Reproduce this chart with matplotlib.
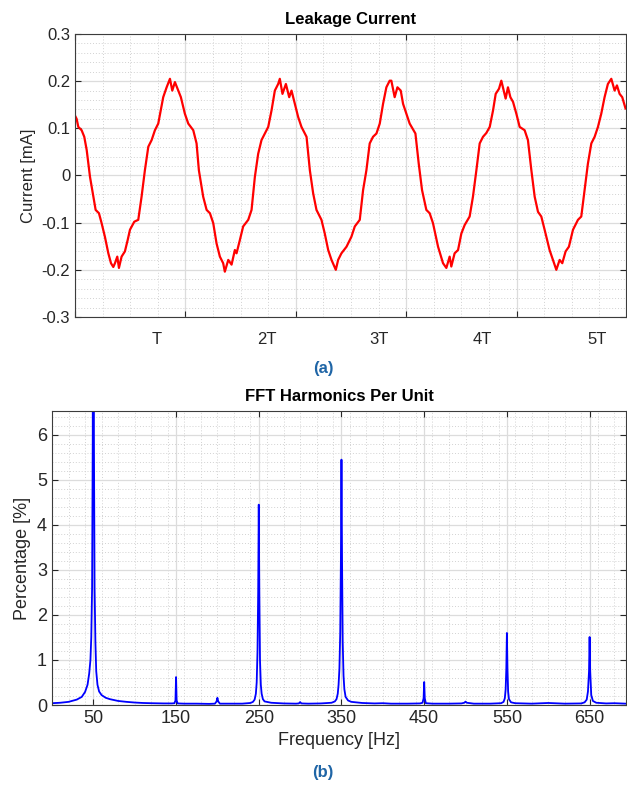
import matplotlib
matplotlib.use("Agg")
import matplotlib.pyplot as plt
from matplotlib.ticker import MultipleLocator, NullFormatter

plt.rcParams['font.family'] = ['Liberation Sans', 'DejaVu Sans']

# leakage current trace, time in periods (T = 20 ms), current in mA
t_period = [
    0.000, 0.015, 0.030, 0.060, 0.084, 0.106, 0.136, 0.166, 0.187, 0.217,
    0.241, 0.271, 0.302, 0.326, 0.347, 0.362, 0.383, 0.398, 0.422, 0.452,
    0.477, 0.498, 0.537, 0.573, 0.603, 0.633, 0.664, 0.694, 0.724, 0.754,
    0.799, 0.830, 0.860, 0.881, 0.905, 0.935, 0.959, 0.995, 1.026, 1.071,
    1.101, 1.122, 1.161, 1.192, 1.222, 1.252, 1.282, 1.312, 1.342, 1.357,
    1.388, 1.418, 1.448, 1.463, 1.493, 1.523, 1.569, 1.599, 1.629, 1.659,
    1.689, 1.719, 1.750, 1.780, 1.810, 1.840, 1.855, 1.879, 1.910, 1.940,
    1.961, 1.991, 2.021, 2.051, 2.097, 2.127, 2.157, 2.187, 2.232, 2.262,
    2.293, 2.323, 2.362, 2.383, 2.413, 2.459, 2.503, 2.534, 2.579, 2.609,
    2.639, 2.669, 2.699, 2.730, 2.760, 2.790, 2.820, 2.850, 2.865, 2.895,
    2.920, 2.950, 2.971, 3.001, 3.031, 3.083, 3.113, 3.143, 3.182, 3.212,
    3.242, 3.288, 3.333, 3.363, 3.393, 3.408, 3.438, 3.469, 3.499, 3.529,
    3.574, 3.604, 3.635, 3.665, 3.695, 3.725, 3.756, 3.786, 3.810, 3.840,
    3.861, 3.882, 3.900, 3.921, 3.943, 3.967, 3.997, 4.027, 4.072, 4.102,
    4.133, 4.163, 4.193, 4.223, 4.253, 4.298, 4.329, 4.359, 4.389, 4.413,
    4.443, 4.473, 4.510, 4.555, 4.585, 4.615, 4.645, 4.676, 4.706, 4.736,
    4.766, 4.796, 4.826, 4.857, 4.887, 4.908, 4.932, 4.956, 4.986,
]
current_ma = [
    0.127, 0.120, 0.103, 0.096, 0.082, 0.054, -0.003, -0.045, -0.073, -0.080,
    -0.101, -0.130, -0.165, -0.186, -0.194, -0.186, -0.172, -0.196, -0.172, -0.161,
    -0.137, -0.115, -0.098, -0.094, -0.045, 0.011, 0.061, 0.075, 0.096, 0.110,
    0.166, 0.187, 0.205, 0.180, 0.198, 0.180, 0.166, 0.131, 0.110, 0.096,
    0.068, 0.011, -0.045, -0.073, -0.080, -0.101, -0.144, -0.172, -0.186, -0.204,
    -0.179, -0.189, -0.158, -0.165, -0.137, -0.108, -0.094, -0.073, -0.003, 0.046,
    0.075, 0.089, 0.103, 0.138, 0.180, 0.194, 0.205, 0.173, 0.194, 0.166,
    0.180, 0.152, 0.124, 0.103, 0.082, 0.011, -0.038, -0.073, -0.094, -0.123,
    -0.158, -0.179, -0.200, -0.179, -0.165, -0.151, -0.130, -0.108, -0.094, -0.031,
    0.011, 0.068, 0.082, 0.089, 0.110, 0.152, 0.187, 0.201, 0.201, 0.166,
    0.187, 0.180, 0.152, 0.131, 0.110, 0.089, 0.025, -0.031, -0.073, -0.080,
    -0.101, -0.151, -0.186, -0.196, -0.172, -0.193, -0.165, -0.158, -0.123, -0.105,
    -0.087, -0.045, 0.011, 0.068, 0.082, 0.090, 0.103, 0.138, 0.173, 0.184,
    0.201, 0.180, 0.163, 0.187, 0.166, 0.156, 0.131, 0.103, 0.096, 0.075,
    0.011, -0.045, -0.077, -0.087, -0.115, -0.158, -0.179, -0.200, -0.179, -0.186,
    -0.161, -0.151, -0.115, -0.094, -0.087, -0.031, 0.025, 0.068, 0.082, 0.103,
    0.131, 0.166, 0.194, 0.205, 0.180, 0.191, 0.173, 0.166, 0.142,
]
period_labels = ["T", "2T", "3T", "4T", "5T"]
period_label_pos = [0.741, 1.736, 2.749, 3.689, 4.729]

# harmonic spectrum, frequency in Hz, amplitude in % of fundamental
freq_hz = [
    0, 10, 20, 30, 36, 40, 43, 45, 46.5, 47.5, 48.5, 49.3, 50, 50.7, 51.5,
    52.5, 53.5, 55, 57, 60, 65, 70, 80, 90, 100, 110, 120, 135, 145, 148,
    149.3, 150, 150.7, 152, 160, 175, 190, 197, 199, 200, 201, 203, 215, 230,
    240, 243, 245, 246.5, 247.5, 248.5, 249.3, 250, 250.7, 251.5, 252.5, 253.5,
    255, 257, 265, 280, 295, 298.5, 300, 301.5, 310, 325, 338, 342, 344, 345.5,
    346.5, 347.5, 348.5, 349.3, 350, 350.7, 351.5, 352.5, 353.5, 355, 358, 362,
    375, 390, 400, 410, 430, 445, 448, 449.3, 450, 450.7, 452, 460, 480, 495,
    498.5, 500, 501.5, 510, 530, 543, 546, 547.5, 548.5, 549.3, 550, 550.7,
    551.5, 552.5, 555, 560, 580, 600, 620, 640, 644, 646.5, 648, 649.3, 650,
    650.7, 652, 654, 658, 670, 680, 694,
]
harmonic_pct = [
    0.04, 0.05, 0.07, 0.12, 0.18, 0.29, 0.45, 0.70, 1.00, 1.50, 2.60, 6.00, 100.0, 6.00, 2.60,
    1.40, 0.75, 0.45, 0.30, 0.22, 0.16, 0.13, 0.09, 0.07, 0.055, 0.045, 0.04, 0.035, 0.035, 0.04,
    0.10, 0.62, 0.10, 0.035, 0.03, 0.03, 0.025, 0.03, 0.08, 0.16, 0.08, 0.03, 0.03, 0.03,
    0.045, 0.07, 0.12, 0.25, 0.50, 1.20, 2.50, 4.45, 2.50, 1.00, 0.45, 0.25,
    0.13, 0.08, 0.05, 0.035, 0.03, 0.035, 0.065, 0.035, 0.03, 0.035, 0.05, 0.08, 0.13, 0.25,
    0.45, 0.80, 1.60, 3.20, 5.45, 3.20, 1.40, 0.65, 0.35, 0.18, 0.10, 0.07,
    0.045, 0.035, 0.04, 0.03, 0.03, 0.035, 0.05, 0.15, 0.51, 0.15, 0.04, 0.03, 0.03, 0.035,
    0.05, 0.075, 0.05, 0.03, 0.03, 0.04, 0.07, 0.15, 0.35, 0.80, 1.60, 0.80,
    0.30, 0.13, 0.06, 0.04, 0.03, 0.045, 0.03, 0.035, 0.06, 0.12, 0.30, 0.75, 1.51,
    0.75, 0.22, 0.09, 0.05, 0.035, 0.04, 0.03,
]
freq_ticks = [50, 150, 250, 350, 450, 550, 650]

TICK_COLOR = "#262626"


def matlab_style(ax):
    ax.grid(True, which="major", color="#dcdcdc", linewidth=0.9, linestyle="-")
    ax.grid(True, which="minor", color="#d2d2d2", linewidth=0.7, linestyle=(0, (1, 2)))
    ax.set_axisbelow(True)
    for sp in ax.spines.values():
        sp.set_color("#3c3c3c")
        sp.set_linewidth(0.8)
    ax.tick_params(which="both", direction="in", top=True, right=True, colors=TICK_COLOR)
    ax.tick_params(which="major", length=4, labelsize=12, labelcolor=TICK_COLOR)
    ax.tick_params(which="minor", length=0)


fig = plt.figure(figsize=(6.27, 7.85), dpi=100)

# leakage current waveform
ax1 = fig.add_axes([0.1196, 0.5962, 0.8788, 0.3605])
ax1.plot(t_period, current_ma, color="#ff0000", linewidth=1.6)
ax1.set_xlim(0, 4.99)
ax1.set_ylim(-0.3, 0.3)
ax1.xaxis.set_major_locator(MultipleLocator(1))
ax1.xaxis.set_minor_locator(MultipleLocator(0.25))
ax1.xaxis.set_major_formatter(NullFormatter())
ax1.yaxis.set_major_locator(MultipleLocator(0.1))
ax1.yaxis.set_minor_locator(MultipleLocator(0.02))
ax1.set_yticks([-0.3, -0.2, -0.1, 0, 0.1, 0.2, 0.3])
ax1.set_yticklabels(["-0.3", "-0.2", "-0.1", "0", "0.1", "0.2", "0.3"])
matlab_style(ax1)
ax1.set_ylabel("Current [mA]", fontsize=12, color=TICK_COLOR, labelpad=4)
ax1.set_title("Leakage Current", fontsize=12, fontweight="bold", pad=7)
for lab, xp in zip(period_labels, period_label_pos):
    ax1.text(xp, -0.081, lab, transform=ax1.get_xaxis_transform(),
             ha="center", va="center", fontsize=12, color=TICK_COLOR)

# harmonic spectrum
ax2 = fig.add_axes([0.0829, 0.1019, 0.9155, 0.3745])
ax2.plot(freq_hz, harmonic_pct, color="#0000ff", linewidth=1.3)
ax2.set_xlim(0, 694)
ax2.set_ylim(0, 6.53)
ax2.set_xticks(freq_ticks)
ax2.xaxis.set_minor_locator(MultipleLocator(20))
ax2.yaxis.set_major_locator(MultipleLocator(1))
ax2.yaxis.set_minor_locator(MultipleLocator(0.2))
matlab_style(ax2)
ax2.tick_params(which="major", labelsize=13)
ax2.set_xlabel("Frequency [Hz]", fontsize=13, color=TICK_COLOR, labelpad=4)
ax2.set_ylabel("Percentage [%]", fontsize=13, color=TICK_COLOR, labelpad=4)
ax2.set_title("FFT Harmonics Per Unit", fontsize=12, fontweight="bold", pad=7)

fig.text(0.515, 0.531, "(a)", ha="center", va="center", fontsize=12,
         fontweight="bold", color="#1f65a6")
fig.text(0.515, 0.0153, "(b)", ha="center", va="center", fontsize=12,
         fontweight="bold", color="#1f65a6")

fig.savefig("out.png", dpi=100)
